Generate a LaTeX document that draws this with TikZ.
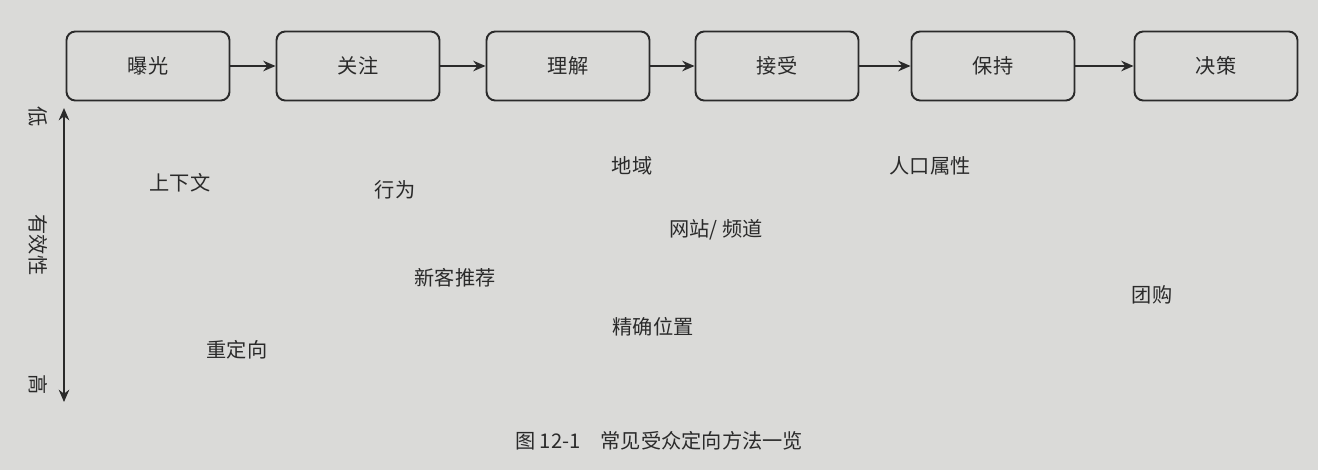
\documentclass[tikz,border=0pt]{standalone}
\usepackage{fontspec}
\setmainfont{Noto Sans CJK SC}
\usetikzlibrary{arrows.meta}
\definecolor{paper}{HTML}{DADAD8}
\definecolor{ink}{HTML}{2A2A2A}
\tikzset{
  stage/.style={draw=ink, line width=1.1pt, rounded corners=5pt, minimum width=3.26cm, minimum height=1.38cm, font=\fontsize{11.5}{14}\selectfont, text=ink},
  lab/.style={font=\fontsize{11.5}{14}\selectfont, text=ink},
  conn/.style={draw=ink, line width=1pt, -{Stealth[length=7pt,width=6pt]}}
}
\begin{document}
\begin{tikzpicture}
\fill[paper] (0,0) rectangle (26.36,9.4);
\useasboundingbox (0,0) rectangle (26.36,9.4);
\node[stage] (s1) at (2.96,8.08) {曝光};
\node[stage] (s2) at (7.16,8.08) {关注};
\node[stage] (s3) at (11.36,8.08) {理解};
\node[stage] (s4) at (15.54,8.08) {接受};
\node[stage] (s5) at (19.86,8.08) {保持};
\node[stage] (s6) at (24.32,8.08) {决策};
\draw[conn] (s1) -- (s2);
\draw[conn] (s2) -- (s3);
\draw[conn] (s3) -- (s4);
\draw[conn] (s4) -- (s5);
\draw[conn] (s5) -- (s6);
\coordinate (va) at (1.28,7.24);
\coordinate (vb) at (1.28,1.36);
\draw[draw=ink, line width=1pt, {Stealth[length=7pt,width=6pt]}-{Stealth[length=7pt,width=6pt]}] (va) -- (vb);
\node[lab, rotate=-90] (lo) at (0.76,7.06) {低};
\node[lab, rotate=-90] (ef) at (0.76,4.5) {有效性};
\node[lab, rotate=-90] (hi) at (0.76,1.7) {高};
\node[lab] (a1) at (3.6,5.74) {上下文};
\node[lab] (a2) at (7.9,5.6) {行为};
\node[lab] (a3) at (12.64,6.08) {地域};
\node[lab] (a4) at (18.6,6.08) {人口属性};
\node[lab] (a5) at (14.32,4.8) {网站/ 频道};
\node[lab] (a6) at (9.1,3.84) {新客推荐};
\node[lab] (a7) at (23.04,3.5) {团购};
\node[lab] (a8) at (13.06,2.86) {精确位置};
\node[lab] (a9) at (4.74,2.4) {重定向};
\node[lab] (cap) at (13.18,0.58) {图 12-1\quad 常见受众定向方法一览};
\end{tikzpicture}
\end{document}
